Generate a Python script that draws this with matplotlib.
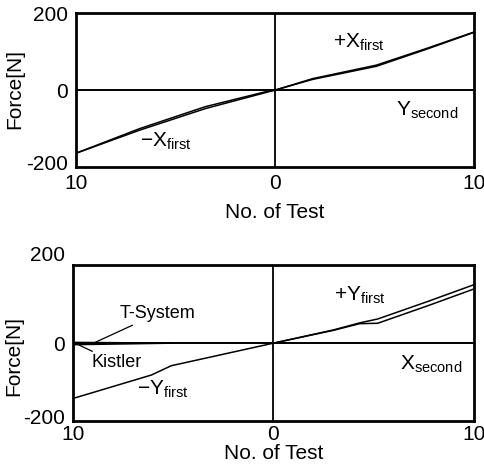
import numpy as np
import matplotlib
matplotlib.use('Agg')
import matplotlib.pyplot as plt
from matplotlib.transforms import ScaledTranslation

# Fonts
plt.rcParams['font.family'] = ['Liberation Sans', 'DejaVu Sans']
plt.rcParams['mathtext.fontset'] = 'custom'
plt.rcParams['mathtext.rm'] = 'Liberation Sans'
plt.rcParams['mathtext.it'] = 'Liberation Sans'

# -------------
# Data
# -------------

# Upper panel: X direction, first load; Y second
x_pos_top = [0, 1.9, 5.1, 7.6, 10]
xfirst_pos_a = [0, 30, 65, 108, 151]
xfirst_pos_b = [0, 28, 62, 106, 150]
x_neg_top = [-10, -6.8, -3.5, -0.3, 0]
xfirst_neg_a = [-164, -104, -48, -4, 0]
xfirst_neg_b = [-164, -100, -43, -2, 0]
x_second = [-10, 10]
ysecond_vals = [1, 1]

# Lower panel: Y direction, first load; X second
x_pos_bot = [0, 3.0, 4.3, 5.2, 7.7, 10]
yfirst_pos_a = [0, 34, 52, 62, 107, 150]
yfirst_pos_b = [0, 33, 50, 51, 96, 139]
x_neg_bot = [-10, -6.1, -5.1, 0]
yfirst_neg = [-142, -82, -58, 0]
x_tsys = [-10, -5]
tsystem_vals = [2, 0]
kistler_vals = [-4, 0]
xsecond_vals = [1, 1]

xticks = [-10, 0, 10]
xticklabels = ['10', '0', '10']
yticks = [-200, 0, 200]
yticklabels = ['-200', '0', '200']

fs = 15
fs_note = 13
lw = 1.1

fig = plt.figure(figsize=(4.84, 4.72), dpi=100)
ax1 = fig.add_axes([0.157, 0.646, 0.822, 0.326])
ax2 = fig.add_axes([0.151, 0.108, 0.828, 0.330])


def style_axes(ax, xpad, xlabelpad, lift, ylab_xy):
    ax.set_xlim(-10, 10)
    ax.set_ylim(-200, 200)
    ax.axhline(0, color='k', lw=1.3, zorder=1)
    ax.axvline(0, color='k', lw=1.3, zorder=1)
    for sp in ax.spines.values():
        sp.set_linewidth(2.0)
    ax.set_xticks(xticks)
    ax.set_xticklabels(xticklabels)
    ax.set_yticks(yticks)
    ax.set_yticklabels(yticklabels)
    ax.tick_params(length=0, labelsize=fs)
    ax.tick_params(axis='x', pad=xpad)
    ax.tick_params(axis='y', pad=6)
    # y tick labels sit a bit above their lines in the original
    for lbl, dy in zip(ax.get_yticklabels(), lift):
        lbl.set_transform(lbl.get_transform() +
                          ScaledTranslation(0, dy / 100., fig.dpi_scale_trans))
    ax.set_xlabel('No. of Test', fontsize=fs, labelpad=xlabelpad)
    ax.set_ylabel('Force[N]', fontsize=fs)
    ax.yaxis.set_label_coords(*ylab_xy)


# Upper panel
style_axes(ax1, 5, 7, [5, 0, 0], (-0.13, 0.51))
ax1.plot(x_pos_top, xfirst_pos_a, color='k', lw=lw)
ax1.plot(x_pos_top, xfirst_pos_b, color='k', lw=lw)
ax1.plot(x_neg_top, xfirst_neg_a, color='k', lw=lw)
ax1.plot(x_neg_top, xfirst_neg_b, color='k', lw=lw)
ax1.plot(x_second, ysecond_vals, color='k', lw=lw)
ax1.text(2.9, 123, r'+X$_{\rm first}$', fontsize=fs, va='center')
ax1.text(-6.8, -133, r'$-$X$_{\rm first}$', fontsize=fs, va='center')
ax1.text(6.1, -52, r'Y$_{\rm second}$', fontsize=fs, va='center')

# Lower panel
style_axes(ax2, 3, 0, [5, 0, 12], (-0.125, 0.42))
ax2.plot(x_pos_bot, yfirst_pos_a, color='k', lw=lw)
ax2.plot(x_pos_bot, yfirst_pos_b, color='k', lw=lw)
ax2.plot(x_neg_bot, yfirst_neg, color='k', lw=lw)
ax2.plot(x_tsys, tsystem_vals, color='k', lw=lw)
ax2.plot(x_tsys, kistler_vals, color='k', lw=lw)
ax2.plot(x_second, xsecond_vals, color='k', lw=lw)
ax2.text(3.0, 124, r'+Y$_{\rm first}$', fontsize=fs, va='center')
ax2.text(-6.8, -118, r'$-$Y$_{\rm first}$', fontsize=fs, va='center')
ax2.text(6.3, -54, r'X$_{\rm second}$', fontsize=fs, va='center')
ax2.annotate('T-System', xy=(-8.9, 2), xytext=(-7.7, 75), fontsize=fs_note,
             va='center', arrowprops=dict(arrowstyle='-', color='k', lw=0.9,
                                          shrinkA=0, shrinkB=0))
ax2.annotate('Kistler', xy=(-9.7, -5), xytext=(-9.1, -50), fontsize=fs_note,
             va='center', arrowprops=dict(arrowstyle='-', color='k', lw=0.9,
                                          shrinkA=0, shrinkB=0))

plt.savefig('out.png', dpi=100, facecolor='w')
plt.close()
